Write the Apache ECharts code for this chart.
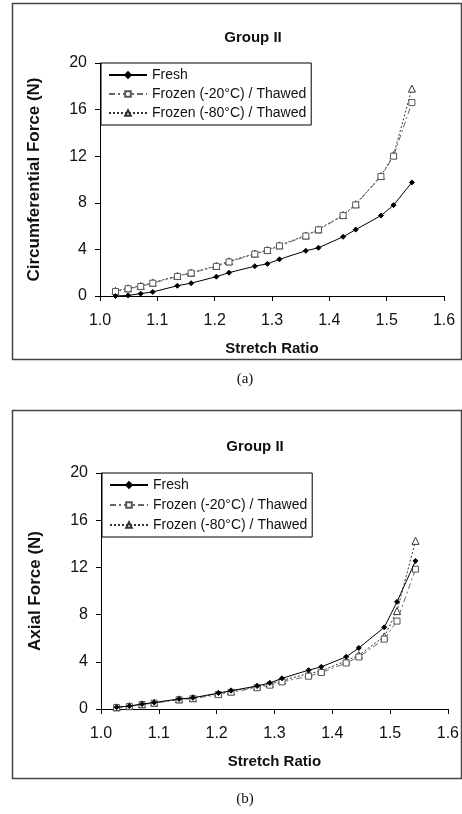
<!DOCTYPE html>
<html>
<head>
<meta charset="utf-8">
<script src="https://cdn.jsdelivr.net/npm/echarts@6/dist/echarts.min.js"></script>
<style>
  html, body { margin: 0; padding: 0; background: #fff; }
  #chart { width: 462px; height: 814px; }
</style>
</head>
<body>
<div id="chart"></div>
<script>
// stretch ratio (same points for every series)
var stretch = [1.027, 1.049, 1.071, 1.092, 1.135, 1.159, 1.203, 1.225, 1.270, 1.292, 1.313, 1.359, 1.381, 1.424, 1.446, 1.490, 1.512, 1.544]

// (a) circumferential force, N
var circFresh = [0.0, 0.05, 0.2, 0.35, 0.88, 1.1, 1.66, 2.0, 2.56, 2.76, 3.15, 3.88, 4.14, 5.08, 5.7, 6.9, 7.8, 9.75]
var circF20 = [0.38, 0.62, 0.82, 1.1, 1.68, 1.97, 2.54, 2.92, 3.6, 3.9, 4.3, 5.15, 5.68, 6.9, 7.82, 10.25, 12.0, 16.6]
var circF80 = [0.45, 0.66, 0.86, 1.15, 1.72, 2.0, 2.58, 2.98, 3.64, 3.95, 4.35, 5.2, 5.72, 6.95, 7.88, 10.3, 12.1, 17.8]

// (b) axial force, N
var axFresh = [0.15, 0.25, 0.42, 0.55, 0.85, 0.95, 1.35, 1.55, 1.95, 2.2, 2.6, 3.29, 3.57, 4.42, 5.18, 6.92, 9.08, 12.55]
var axF20 = [0.12, 0.22, 0.38, 0.5, 0.78, 0.88, 1.22, 1.42, 1.8, 2.02, 2.3, 2.78, 3.09, 3.9, 4.41, 5.92, 7.45, 11.85]
var axF80 = [0.14, 0.24, 0.4, 0.53, 0.82, 0.92, 1.3, 1.5, 1.9, 2.12, 2.42, 3.0, 3.23, 4.08, 4.56, 6.15, 8.3, 14.25]

var names = ['Fresh', 'Frozen (-20°C) / Thawed', 'Frozen (-80°C) / Thawed']
var xTicks = [1.0, 1.6, 0.1]
var yTicks = [0, 20, 4]

var font = 'Liberation Sans, Arial, sans-serif'

function pairs (ys) {
  return ys.map(function (y, i) { return [stretch[i], y] })
}

// 三条线的样式
function makeSeries (idx, data) {
  var styles = [
    { symbol: 'diamond', symbolSize: 5, color: '#000', line: { color: '#000', width: 1, type: 'solid' }, fill: '#000' },
    { symbol: 'rect', symbolSize: 6, color: '#555', line: { color: '#666', width: 1, type: [6, 3, 2, 3] }, fill: '#fff' },
    { symbol: 'triangle', symbolSize: 7, color: '#333', line: { color: '#333', width: 1, type: [2, 2] }, fill: '#fff' }
  ]
  return data.map(function (ys, k) {
    var s = styles[k]
    return {
      name: names[k],
      type: 'line',
      xAxisIndex: idx,
      yAxisIndex: idx,
      data: pairs(ys),
      symbol: s.symbol,
      symbolSize: s.symbolSize,
      showAllSymbol: true,
      smooth: false,
      lineStyle: s.line,
      itemStyle: { color: s.fill, borderColor: s.color, borderWidth: 1 },
      z: 3 - k
    }
  })
}

function xAxisCfg (idx) {
  return {
    gridIndex: idx,
    type: 'value',
    min: xTicks[0],
    max: xTicks[1],
    interval: xTicks[2],
    name: 'Stretch Ratio',
    nameLocation: 'middle',
    nameGap: 45,
    nameTextStyle: { fontFamily: font, fontSize: 15, fontWeight: 'bold', color: '#111' },
    axisLine: { lineStyle: { color: '#000', width: 1 } },
    axisTick: { show: true, inside: false, length: 5, lineStyle: { color: '#000' } },
    axisLabel: {
      margin: 17,
      fontFamily: font,
      fontSize: 16,
      color: '#111',
      formatter: function (v) { return v.toFixed(1) }
    },
    splitLine: { show: false }
  }
}

function yAxisCfg (idx, label) {
  return {
    gridIndex: idx,
    type: 'value',
    min: yTicks[0],
    max: yTicks[1],
    interval: yTicks[2],
    name: label,
    nameLocation: 'middle',
    nameGap: 57,
    nameTextStyle: { fontFamily: font, fontSize: 17, fontWeight: 'bold', color: '#111' },
    axisLine: { show: true, lineStyle: { color: '#000', width: 1 } },
    axisTick: { show: true, inside: false, length: 5, lineStyle: { color: '#000' } },
    axisLabel: { margin: 13, fontFamily: font, fontSize: 16, color: '#111' },
    splitLine: { show: false }
  }
}

function legendCfg (top, left, gap) {
  return {
    data: names,
    orient: 'vertical',
    left: left,
    top: top,
    itemWidth: 38,
    itemHeight: 7,
    itemGap: gap,
    padding: [5, 5, 5, 7],
    borderColor: '#000',
    borderWidth: 1,
    textStyle: { fontFamily: font, fontSize: 14, color: '#111' }
  }
}

var chart = echarts.init(document.getElementById('chart'))

var option = {
  backgroundColor: '#fff',
  animation: false,
  title: [
    { text: 'Group II', left: 248, top: 25, textAlign: 'center', textStyle: { fontFamily: font, fontSize: 15, fontWeight: 'bold', color: '#111' } },
    { text: 'Group II', left: 250, top: 434, textAlign: 'center', textStyle: { fontFamily: font, fontSize: 15, fontWeight: 'bold', color: '#111' } },
    { text: '(a)', left: 240, top: 367, textAlign: 'center', textStyle: { fontFamily: 'Liberation Serif, Times New Roman, serif', fontSize: 15, fontWeight: 'normal', color: '#111' } },
    { text: '(b)', left: 240, top: 787, textAlign: 'center', textStyle: { fontFamily: 'Liberation Serif, Times New Roman, serif', fontSize: 15, fontWeight: 'normal', color: '#111' } }
  ],
  legend: [legendCfg(63, 101, 5), legendCfg(473, 102, 6)],
  grid: [
    { left: 100, right: 18, top: 63, height: 233 },
    { left: 101, right: 13, top: 473, height: 236 }
  ],
  xAxis: [xAxisCfg(0), xAxisCfg(1)],
  yAxis: [yAxisCfg(0, 'Circumferential Force (N)'), yAxisCfg(1, 'Axial Force (N)')],
  series: makeSeries(0, [circFresh, circF20, circF80]).concat(makeSeries(1, [axFresh, axF20, axF80])),
  // 外框
  graphic: [
    { type: 'rect', shape: { x: 12.5, y: 3.5, width: 449, height: 356 }, style: { fill: 'none', stroke: '#444', lineWidth: 1.5 }, silent: true },
    { type: 'rect', shape: { x: 12.5, y: 410.5, width: 449, height: 368 }, style: { fill: 'none', stroke: '#444', lineWidth: 1.5 }, silent: true }
  ]
}

chart.setOption(option, true)
</script>
</body>
</html>
